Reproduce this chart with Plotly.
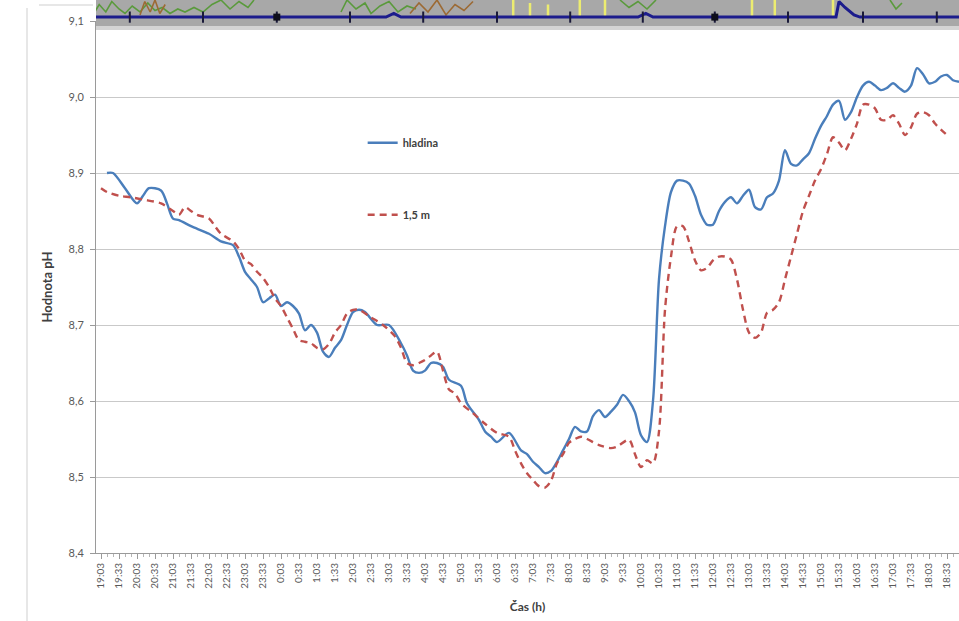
import plotly.graph_objects as go

# Time axis: index of 10-minute steps starting at 19:03
time_labels = [
    "19:03", "19:33", "20:03", "20:33", "21:03", "21:33", "22:03", "22:33",
    "23:03", "23:33", "0:03", "0:33", "1:03", "1:33", "2:03", "2:33",
    "3:03", "3:33", "4:03", "4:33", "5:03", "5:33", "6:03", "6:33",
    "7:03", "7:33", "8:03", "8:33", "9:03", "9:33", "10:03", "10:33",
    "11:03", "11:33", "12:03", "12:33", "13:03", "13:33", "14:03", "14:33",
    "15:03", "15:33", "16:03", "16:33", "17:03", "17:33", "18:03", "18:33",
]
label_steps = [3 * i for i in range(len(time_labels))]

# pH at the surface (hladina)
t_hladina = [1, 2, 4, 6, 7, 8, 10, 11, 12, 13, 15, 18, 20, 22, 23, 24, 25, 26, 27, 28,
             29, 30, 31, 32, 33, 34, 35, 36, 37, 38, 39, 40, 41, 42, 43, 44, 46, 48, 50, 51,
             52, 53, 54, 55, 56, 57, 58, 60, 61, 63, 64, 65, 66, 68, 70, 71, 72, 73, 74, 75,
             76, 77, 78, 79, 80, 81, 82, 83, 84, 85, 86, 87, 88, 89, 90, 91, 92, 93, 94, 95,
             96, 97, 98, 99, 100, 101, 102, 103, 104, 105, 106, 107, 108, 109, 110, 111, 112, 113, 114, 115,
             116, 117, 118, 119, 120, 121, 122, 123, 124, 125, 126, 127, 128, 129, 130, 131, 132, 133, 134, 135,
             136, 137, 138, 139, 140, 141, 142, 143]
ph_hladina = [8.90, 8.90, 8.88, 8.86, 8.87, 8.88, 8.877, 8.86, 8.84, 8.838, 8.83, 8.82, 8.81, 8.805, 8.79, 8.77, 8.76, 8.75, 8.73, 8.735,
              8.74, 8.725, 8.73, 8.725, 8.715, 8.693, 8.70, 8.69, 8.665, 8.658, 8.67, 8.68, 8.70, 8.717, 8.72, 8.717, 8.70, 8.70, 8.676, 8.66,
              8.64, 8.637, 8.64, 8.65, 8.65, 8.645, 8.628, 8.62, 8.597, 8.575, 8.56, 8.553, 8.546, 8.558, 8.535, 8.53, 8.52, 8.513, 8.505, 8.508,
              8.52, 8.535, 8.55, 8.566, 8.56, 8.56, 8.58, 8.588, 8.579, 8.586, 8.595, 8.608, 8.60, 8.585, 8.555, 8.546, 8.60, 8.76, 8.83, 8.875,
              8.89, 8.89, 8.886, 8.87, 8.845, 8.832, 8.832, 8.85, 8.862, 8.868, 8.86, 8.87, 8.878, 8.855, 8.852, 8.868, 8.873, 8.89, 8.93, 8.912,
              8.91, 8.918, 8.926, 8.945, 8.962, 8.975, 8.99, 8.995, 8.97, 8.98, 9.0, 9.015, 9.02, 9.015, 9.009, 9.012, 9.018, 9.012, 9.007, 9.015,
              9.038, 9.03, 9.018, 9.02, 9.027, 9.029, 9.022, 9.02]

# pH at 1,5 m depth
t_15m = [0, 1, 3, 5, 7, 10, 12, 13, 14, 15, 16, 18, 19, 20, 22, 23, 24, 25, 26, 27,
         28, 29, 30, 31, 32, 33, 34, 35, 36, 37, 38, 39, 40, 41, 42, 43, 45, 47, 49, 50,
         51, 52, 53, 54, 55, 56, 57, 58, 59, 60, 62, 64, 66, 68, 69, 70, 71, 72, 73, 74,
         75, 76, 77, 78, 79, 80, 81, 83, 85, 86, 88, 89, 90, 91, 92, 93, 94, 95, 96, 97,
         98, 99, 100, 101, 102, 103, 104, 105, 106, 107, 108, 109, 110, 111, 112, 113, 114, 115, 116, 117,
         118, 119, 120, 121, 122, 123, 124, 125, 126, 127, 128, 129, 130, 131, 132, 133, 134, 135, 136, 137,
         138, 139, 140, 141]
ph_15m = [8.88, 8.875, 8.87, 8.868, 8.865, 8.86, 8.85, 8.845, 8.855, 8.85, 8.845, 8.84, 8.83, 8.82, 8.81, 8.80, 8.785, 8.78, 8.77, 8.762,
          8.75, 8.735, 8.725, 8.71, 8.695, 8.68, 8.678, 8.676, 8.67, 8.668, 8.675, 8.69, 8.70, 8.715, 8.72, 8.72, 8.71, 8.70, 8.685, 8.67,
          8.65, 8.647, 8.65, 8.654, 8.66, 8.665, 8.64, 8.615, 8.61, 8.597, 8.584, 8.57, 8.558, 8.553, 8.535, 8.518, 8.505, 8.496, 8.488, 8.486,
          8.495, 8.518, 8.53, 8.545, 8.55, 8.553, 8.55, 8.542, 8.538, 8.54, 8.549, 8.53, 8.513, 8.522, 8.518, 8.56, 8.72, 8.79, 8.83, 8.83,
          8.81, 8.785, 8.772, 8.775, 8.785, 8.79, 8.79, 8.786, 8.76, 8.72, 8.69, 8.683, 8.69, 8.716, 8.72, 8.73, 8.76, 8.79, 8.82, 8.85,
          8.87, 8.89, 8.905, 8.925, 8.947, 8.94, 8.93, 8.945, 8.965, 8.99, 8.99, 8.985, 8.97, 8.97, 8.976, 8.965, 8.95, 8.96, 8.978, 8.98,
          8.976, 8.965, 8.957, 8.95]

# Strip of the neighbouring chart along the top edge (values on a 0..1 scale)
strip_axis_t = [-1.3, 47.5, 48.8, 50, 89.5, 90.8, 92, 122.5, 123, 124, 125.5, 126.5, 143.5]
strip_axis_v = [0.43, 0.43, 0.55, 0.43, 0.43, 0.55, 0.43, 0.43, 0.95, 0.75, 0.5, 0.43, 0.43]
strip_ticks_t = [4.8, 17.0, 29.3, 41.5, 53.7, 66.0, 78.2, 90.3, 102.3, 114.5, 127.0, 139.3]
strip_major_t = [29.3, 102.3]
green_a_t = [-1.2, -0.3, 0.8, 1.8, 3.0, 4.0, 5.2, 6.5, 7.8, 9.0, 10.2, 11.5, 12.8, 14.0, 15.5, 17.0, 18.5, 20.0, 21.5, 23.0, 24.5, 25.5]
green_a_v = [0.55, 0.85, 0.6, 0.95, 0.7, 0.55, 0.8, 0.6, 0.9, 0.65, 0.75, 0.55, 0.7, 0.6, 0.75, 0.6, 0.85, 1.0, 0.7, 0.95, 0.75, 1.0]
green_b_t = [40, 41, 42.5, 44, 45, 46.5, 48, 49.5, 51, 52.5]
green_b_v = [0.6, 1.0, 0.7, 0.9, 0.55, 0.8, 0.95, 0.6, 0.8, 0.7]
green_c_t = [86.5, 88, 89.5, 91, 92.5]
green_c_v = [1.0, 0.75, 0.95, 0.7, 1.0]
green_d_t = [131.5, 132.5, 133.5]
green_d_v = [1.0, 0.7, 0.9]
brown_a_t = [6.5, 7.3, 8.2, 9.0, 9.8, 10.7]
brown_a_v = [0.5, 0.95, 0.6, 1.0, 0.55, 0.85]
brown_b_t = [51.5, 53, 54.5, 56, 57.5, 59, 60.5, 62]
brown_b_v = [0.55, 0.9, 0.6, 1.0, 0.5, 0.85, 0.65, 0.95]
yellow_t = [68.7, 71.5, 74.5, 79.8, 84.0, 108.5, 112.3, 122.0]
yellow_top = [1.0, 0.9, 0.85, 1.0, 1.0, 1.0, 1.0, 1.0]

X_RANGE = [-0.833, 143]
FONT = "Lato, 'Open Sans', sans-serif"
GRID = "#c9c9c9"
AXIS = "#9a9a9a"

fig = go.Figure()

# grey band of the neighbouring chart (dark body, lighter lower edge)
fig.add_trace(go.Scatter(
    x=[X_RANGE[0], X_RANGE[1], X_RANGE[1], X_RANGE[0]], y=[0.13, 0.13, 1.0, 1.0],
    yaxis="y2", mode="lines", fill="toself", fillcolor="#a8a8a8",
    line=dict(width=0), showlegend=False, hoverinfo="skip",
))
fig.add_trace(go.Scatter(
    x=[X_RANGE[0], X_RANGE[1], X_RANGE[1], X_RANGE[0]], y=[0.0, 0.0, 0.13, 0.13],
    yaxis="y2", mode="lines", fill="toself", fillcolor="#d4d4d4",
    line=dict(width=0), showlegend=False, hoverinfo="skip",
))

fig.add_trace(go.Scatter(
    x=t_hladina, y=ph_hladina, name="hladina", mode="lines",
    line=dict(color="#4a7ebb", width=2.4, shape="spline", smoothing=0.8),
    legendgroup="a",
))
fig.add_trace(go.Scatter(
    x=t_15m, y=ph_15m, name="1,5 m", mode="lines",
    line=dict(color="#c0504d", width=2.4, dash="7px,5px", shape="spline", smoothing=0.8),
    legendgroup="b",
))


def strip_line(xs, ys, color, width):
    fig.add_trace(go.Scatter(x=xs, y=ys, yaxis="y2", mode="lines", showlegend=False,
                             hoverinfo="skip", line=dict(color=color, width=width)))


strip_line(green_a_t, green_a_v, "#5a9a3c", 1.6)
strip_line(green_b_t, green_b_v, "#5a9a3c", 1.6)
strip_line(green_c_t, green_c_v, "#5a9a3c", 1.6)
strip_line(green_d_t, green_d_v, "#5a9a3c", 1.6)
strip_line(brown_a_t, brown_a_v, "#9c6a34", 1.6)
strip_line(brown_b_t, brown_b_v, "#9c6a34", 1.6)
yx, yy = [], []
for t, top in zip(yellow_t, yellow_top):
    yx += [t, t, None]
    yy += [0.43, top, None]
strip_line(yx, yy, "#ecec70", 2.5)
strip_line(strip_axis_t, strip_axis_v, "#1c1c8c", 3)
fig.add_trace(go.Scatter(
    x=strip_ticks_t, y=[0.43] * len(strip_ticks_t), yaxis="y2", mode="markers",
    showlegend=False, hoverinfo="skip",
    marker=dict(symbol="line-ns", size=8, line=dict(color="#1a1a3a", width=2)),
))
fig.add_trace(go.Scatter(
    x=strip_major_t, y=[0.43] * len(strip_major_t), yaxis="y2", mode="markers",
    showlegend=False, hoverinfo="skip",
    marker=dict(symbol="square", size=7, color="#0d0d1a"),
))

plot_h = 553
fig.update_layout(
    width=959, height=621,
    margin=dict(l=96, r=0, t=0, b=68),
    paper_bgcolor="white", plot_bgcolor="white",
    separators=", ",
    font=dict(family=FONT, color="#404040"),
    showlegend=True,
    legend=dict(
        x=0.309, y=0.768, xanchor="left", yanchor="top",
        bgcolor="rgba(0,0,0,0)", tracegroupgap=53, traceorder="grouped",
        font=dict(family=FONT, size=11, color="#404040", weight="bold"),
    ),
    xaxis=dict(
        range=X_RANGE, tickmode="array", tickvals=label_steps, ticktext=time_labels,
        tickangle=-90, tickfont=dict(size=10, color="#595959"),
        showgrid=False, zeroline=False, automargin=False,
        showline=True, linecolor=AXIS, linewidth=1,
        ticks="outside", ticklen=5, tickcolor=AXIS,
        minor=dict(tickmode="linear", tick0=0, dtick=1, ticks="outside", ticklen=3,
                   tickcolor="#b5b5b5", showgrid=False),
        title=dict(text="<b>Čas (h)</b>", font=dict(size=12, color="#404040"), standoff=14),
        anchor="y",
    ),
    yaxis=dict(
        domain=[0, 532 / plot_h], range=[8.4, 9.1], tickmode="linear", tick0=8.4, dtick=0.1,
        tickformat=".1f", tickfont=dict(size=11, color="#595959"), ticklabelstandoff=4,
        showgrid=True, gridcolor=GRID, gridwidth=1, zeroline=False, automargin=False,
        showline=True, linecolor=AXIS, linewidth=1,
        ticks="outside", ticklen=5, tickcolor=AXIS,
        title=dict(text="<b>Hodnota pH</b>", font=dict(size=13, color="#404040"), standoff=12),
    ),
    yaxis2=dict(
        domain=[(plot_h - 30) / plot_h, 1.0], range=[0, 1], anchor="x",
        showgrid=False, zeroline=False, showticklabels=False, showline=False, ticks="",
    ),
)

# frame lines of the neighbouring panels on the left
fig.add_shape(type="line", xref="paper", yref="paper", x0=-69 / 863, x1=-69 / 863, y0=-68 / plot_h, y1=1 - 8 / plot_h,
              line=dict(color="#cfcfcf", width=1))
fig.add_shape(type="line", xref="paper", yref="paper", x0=-57 / 863, x1=-3 / 863, y0=1 - 5 / plot_h, y1=1 - 5 / plot_h,
              line=dict(color="#cfcfcf", width=1))

fig.write_html("out.html")
